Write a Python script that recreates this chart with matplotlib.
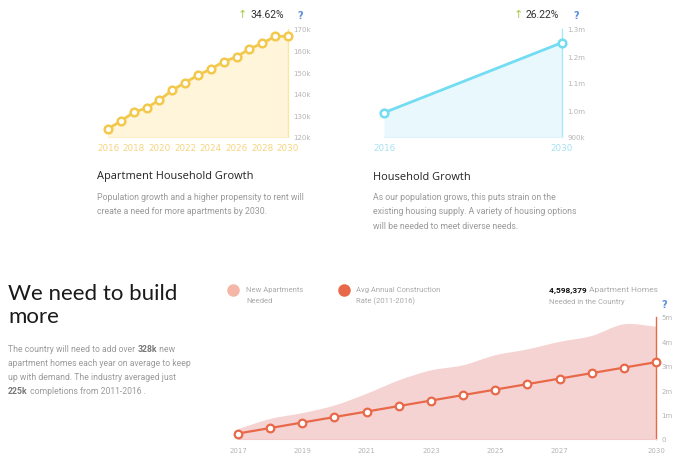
import matplotlib
matplotlib.use("Agg")
import matplotlib.pyplot as plt
from matplotlib.ticker import FuncFormatter
from matplotlib.path import Path
from matplotlib.patches import PathPatch

# apartment household growth (thousands)
apt_years = [2016, 2017, 2018, 2019, 2020, 2021, 2022, 2023, 2024, 2025, 2026, 2027, 2028, 2029, 2030]
apt_households = [123.8, 127.4, 131.4, 133.5, 137.1, 141.7, 145.2, 148.6, 151.5, 154.9, 157.1, 160.8, 163.4, 166.6, 166.7]
apt_ticks = [120, 130, 140, 150, 160, 170]

# household growth (thousands)
hh_years = [2016, 2030]
hh_values = [990, 1249.6]
hh_ticks = [900, 1000, 1100, 1200, 1300]

# bottom chart (millions)
build_years = [2017, 2018, 2019, 2020, 2021, 2022, 2023, 2024, 2025, 2026, 2027, 2028, 2029, 2030]
needed = [0.40, 0.82, 1.06, 1.37, 1.85, 2.40, 2.81, 3.02, 3.43, 3.67, 3.98, 4.22, 4.70, 4.598]
construction = [0.225, 0.45, 0.675, 0.9, 1.125, 1.35, 1.575, 1.8, 2.025, 2.25, 2.475, 2.7, 2.925, 3.15]
build_xticks = [2017, 2019, 2021, 2023, 2025, 2027, 2030]
build_yticks = [0, 1, 2, 3, 4, 5]

W, H = 680, 460
fig = plt.figure(figsize=(6.8, 4.6), dpi=100)
fig.patch.set_facecolor("white")

TXT_GRAY = "#9a9a9a"
TICK_GRAY = "#b5b5b5"


def px_axes(left, top, right, bottom):
    return fig.add_axes([left / W, 1 - bottom / H, (right - left) / W, (bottom - top) / H])


def style_axes(ax, spine_col, xcol):
    for s in ["top", "left", "bottom"]:
        ax.spines[s].set_visible(False)
    ax.spines["right"].set_color(spine_col)
    ax.spines["right"].set_linewidth(1.0)
    ax.yaxis.tick_right()
    ax.tick_params(axis="y", length=0, labelsize=5, labelcolor=TICK_GRAY, pad=4)
    ax.tick_params(axis="x", length=0, labelcolor=xcol)
    ax.set_facecolor("none")


def k_fmt(v, pos):
    return f"{int(v)}k"


def km_fmt(v, pos):
    if v >= 1000:
        return f"{v / 1000:.1f}m"
    return f"{int(v)}k"


def m_fmt(v, pos):
    return "0" if v == 0 else f"{int(v)}m"


def smooth_area(ax, xs, ys, base, color):
    # catmull-rom through the data points, closed down to the baseline
    n = len(xs)
    verts = [(xs[0], base), (xs[0], ys[0])]
    codes = [Path.MOVETO, Path.LINETO]
    for i in range(n - 1):
        x0, y0 = (xs[i - 1], ys[i - 1]) if i > 0 else (xs[i], ys[i])
        x1, y1 = xs[i], ys[i]
        x2, y2 = xs[i + 1], ys[i + 1]
        x3, y3 = (xs[i + 2], ys[i + 2]) if i + 2 < n else (x2, y2)
        verts += [(x1 + (x2 - x0) / 6, y1 + (y2 - y0) / 6),
                  (x2 - (x3 - x1) / 6, y2 - (y3 - y1) / 6),
                  (x2, y2)]
        codes += [Path.CURVE4] * 3
    verts += [(xs[-1], base), (xs[0], base)]
    codes += [Path.LINETO, Path.CLOSEPOLY]
    ax.add_patch(PathPatch(Path(verts, codes), facecolor=color, lw=0, zorder=1))


# ---- chart 1
yel = "#f2c94c"
ax1 = px_axes(108, 30, 288, 138)
ax1.fill_between(apt_years, apt_households, 120, color="#fef5da", lw=0)
ax1.plot(apt_years, apt_households, color=yel, lw=2, marker="o", ms=5.5,
         mfc="white", mec=yel, mew=1.8, clip_on=False, zorder=3)
ax1.set_xlim(2016, 2030)
ax1.set_ylim(120, 170)
ax1.set_yticks(apt_ticks)
ax1.yaxis.set_major_formatter(FuncFormatter(k_fmt))
ax1.set_xticks(list(range(2016, 2031, 2)))
style_axes(ax1, "#fbe6a6", "#f5d580")
ax1.tick_params(axis="x", labelsize=6.3, pad=4)
ax1.spines["bottom"].set_visible(True)
ax1.spines["bottom"].set_color("#fdf0c8")

# ---- chart 2
cy = "#72dcf2"
ax2 = px_axes(384, 30, 562, 138)
ax2.fill_between(hh_years, hh_values, 900, color="#e9f8fd", lw=0)
ax2.plot(hh_years, hh_values, color=cy, lw=2, marker="o", ms=5.5,
         mfc="white", mec=cy, mew=1.8, clip_on=False, zorder=3)
ax2.set_xlim(2016, 2030)
ax2.set_ylim(900, 1300)
ax2.set_yticks(hh_ticks)
ax2.yaxis.set_major_formatter(FuncFormatter(km_fmt))
ax2.set_xticks(hh_years)
style_axes(ax2, "#a8e8f7", "#a6e2f3")
ax2.tick_params(axis="x", labelsize=6.3, pad=4)
ax2.spines["bottom"].set_visible(True)
ax2.spines["bottom"].set_color("#dff4fb")

# ---- chart 3
org = "#e8694a"
ax3 = px_axes(238, 318, 656, 440)
smooth_area(ax3, build_years, needed, 0, "#f6d3d3")
ax3.plot(build_years, construction, color=org, lw=1.6, marker="o", ms=5.5,
         mfc="white", mec=org, mew=1.6, clip_on=False, zorder=3)
ax3.set_xlim(2017, 2030)
ax3.set_ylim(0, 5)
ax3.set_yticks(build_yticks)
ax3.yaxis.set_major_formatter(FuncFormatter(m_fmt))
ax3.set_xticks(build_xticks)
style_axes(ax3, org, TICK_GRAY)
ax3.tick_params(axis="x", labelsize=5, pad=6)
ax3.spines["bottom"].set_visible(True)
ax3.spines["bottom"].set_color("#f4c9c9")

# ---- text helpers
renderer = fig.canvas.get_renderer()


def ftext(x, y, s, **kw):
    return fig.text(x / W, 1 - y / H, s, va="center", ha=kw.pop("ha", "left"), **kw)


def runs(x, y, parts, size, family="Roboto"):
    for s, col, wt in parts:
        t = ftext(x, y, s, fontsize=size, color=col, fontweight=wt, family=family)
        bb = t.get_window_extent(renderer)
        x += bb.width


# top badges
ftext(242, 15, "\u2191", fontsize=8, color="#a9c94b", ha="center", family="DejaVu Sans")
ftext(250, 15, "34.62%", fontsize=7.5, color="#333333", family="Roboto")
ftext(300, 16, "?", fontsize=7, color="#5b8fe0", fontweight="bold", ha="center", family="DejaVu Sans")
ftext(518, 15, "\u2191", fontsize=8, color="#a9c94b", ha="center", family="DejaVu Sans")
ftext(526, 15, "26.22%", fontsize=7.5, color="#333333", family="Roboto")
ftext(576, 16, "?", fontsize=7, color="#5b8fe0", fontweight="bold", ha="center", family="DejaVu Sans")

# section titles
ftext(97, 177, "Apartment Household Growth", fontsize=7.9, color="#222222", family="Open Sans")
ftext(373, 177, "Household Growth", fontsize=7.9, color="#222222", family="Open Sans")

p1 = ["Population growth and a higher propensity to rent will",
      "create a need for more apartments by 2030."]
for i, line in enumerate(p1):
    ftext(97, 197 + i * 15, line, fontsize=6.3, color=TXT_GRAY, family="Roboto")
p2 = ["As our population grows, this puts strain on the",
      "existing housing supply. A variety of housing options",
      "will be needed to meet diverse needs."]
for i, line in enumerate(p2):
    ftext(373, 197 + i * 15, line, fontsize=6.3, color=TXT_GRAY, family="Roboto")

# headline
ftext(8, 294, "We need to build", fontsize=16, color="#1a1a1a", family="Lato")
ftext(8, 317, "more", fontsize=16, color="#1a1a1a", family="Lato")

runs(8, 350, [("The country will need to add over ", TXT_GRAY, "normal"),
              ("328k", "#777777", "bold"), (" new", TXT_GRAY, "normal")], 6.25)
runs(8, 364, [("apartment homes each year on average to keep", TXT_GRAY, "normal")], 6.25)
runs(8, 378, [("up with demand. The industry averaged just", TXT_GRAY, "normal")], 6.25)
runs(8, 392, [("225k", "#777777", "bold"), (" completions from 2011-2016 .", TXT_GRAY, "normal")], 6.25)

# legend
fig.lines.append(plt.Line2D([233 / W], [1 - 291 / H], marker="o", ms=8, color="#f4b6a6",
                            mec="#f4b6a6", transform=fig.transFigure, lw=0))
ftext(246, 290, "New Apartments", fontsize=5.5, color="#aaaaaa", family="Roboto")
ftext(246, 301, "Needed", fontsize=5.5, color="#aaaaaa", family="Roboto")
fig.lines.append(plt.Line2D([344 / W], [1 - 291 / H], marker="o", ms=8, color=org,
                            mec=org, transform=fig.transFigure, lw=0))
ftext(356, 290, "Avg Annual Construction", fontsize=5.5, color="#aaaaaa", family="Roboto")
ftext(356, 301, "Rate (2011-2016)", fontsize=5.5, color="#aaaaaa", family="Roboto")

runs(549, 290, [("4,598,379 ", "#111111", "bold"), ("Apartment Homes", "#aaaaaa", "normal")], 6)
ftext(549, 302, "Needed in the Country", fontsize=5.5, color="#aaaaaa", family="Roboto")
ftext(664, 305, "?", fontsize=7, color="#5b8fe0", fontweight="bold", ha="center", family="DejaVu Sans")

fig.savefig("out.png", dpi=100, facecolor="white")
